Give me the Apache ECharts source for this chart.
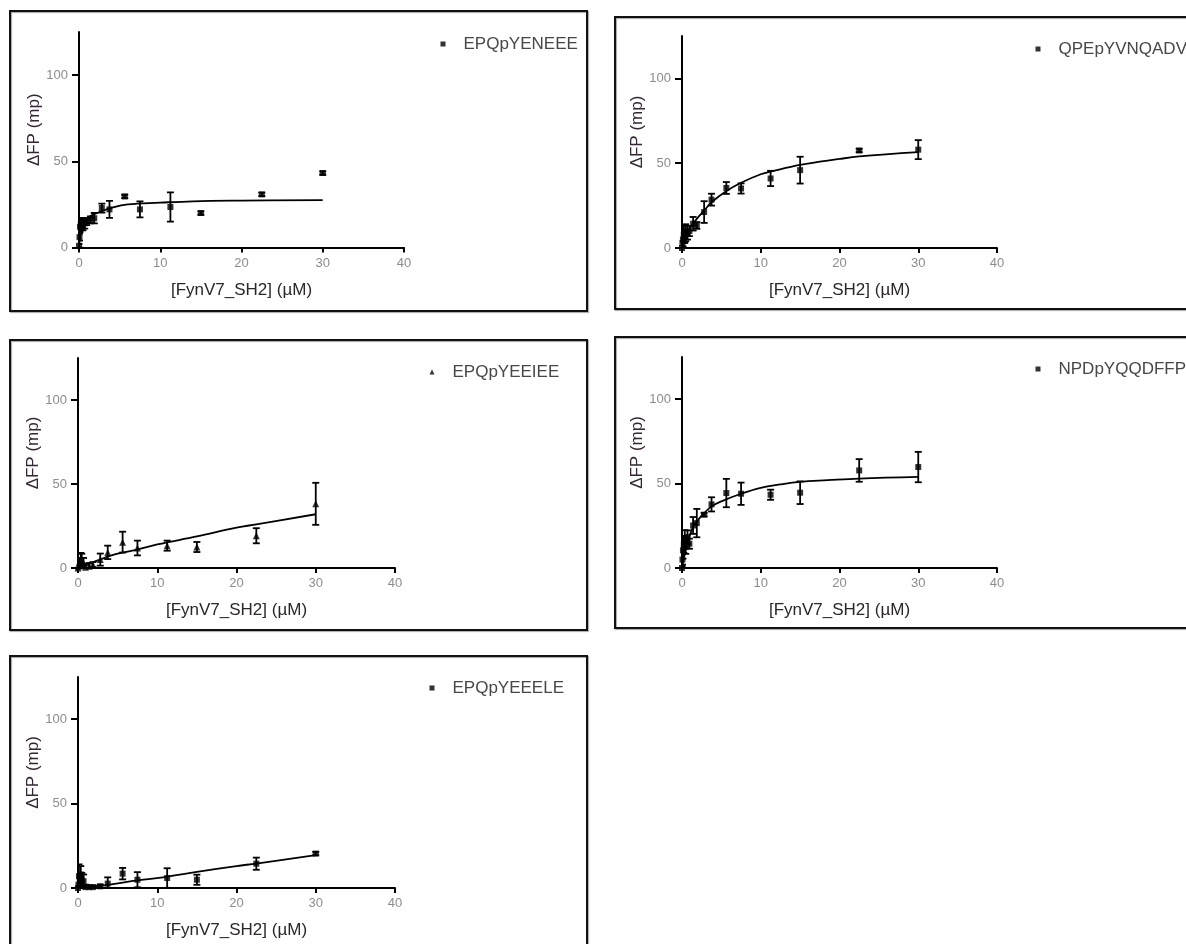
<!DOCTYPE html>
<html>
<head>
<meta charset="utf-8">
<script src="https://cdn.jsdelivr.net/npm/echarts@6/dist/echarts.min.js"></script>
<style>
  html, body { margin: 0; padding: 0; background: #fff; }
  #chart { width: 1186px; height: 944px; }
</style>
</head>
<body>
<div id="chart"></div>
<script>
// FynV7_SH2 titration: ΔFP for five phosphopeptides (mean ± SD) with one-site fits.
const conc = [0, 0.06, 0.12, 0.23, 0.35, 0.47, 0.70, 0.94, 1.41, 1.88, 2.81, 3.75, 5.63, 7.5, 11.25, 15, 22.5, 30];
const xTicks = [0, 10, 20, 30, 40];
const yTicks = [0, 50, 100];
const xTitle = '[FynV7_SH2] (µM)';
const yTitle = 'ΔFP (mp)';

// EPQpYENEEE
const meanENEEE = [1, 6, 12, 14, 15, 13, 14, 15, 16, 17, 22.9, 22.1, 29.6, 22.1, 23.5, 20, 30.8, 43.2];
const sdENEEE   = [1, 2, 3, 3, 2, 3, 3, 2, 2, 3, 2.6, 4.9, 1, 4.6, 8.5, 1, 1, 1];
const fitXENEEE = [0, 0.1, 0.25, 0.5, 1, 1.5, 2.5, 4, 6, 10, 14, 20, 30];
const fitYENEEE = [0, 5, 9.5, 13.5, 17, 18.5, 20.5, 23, 25, 26, 26.8, 27.2, 27.5];

// QPEpYVNQADV
const meanVNQADV = [0, 3, 5, 8, 7, 9, 9, 10, 14.3, 13.3, 21.2, 28.5, 35.4, 35.1, 41, 45.9, 57.5, 58];
const sdVNQADV   = [0.5, 3, 4, 5, 4, 5, 4, 3, 4, 2, 6.4, 3.5, 3.5, 3, 4.5, 7.9, 1, 5.6];
const fitXVNQADV = [0, 0.5, 1, 1.9, 2.8, 3.75, 5.6, 7.5, 10, 11.25, 15, 20, 22.5, 30];
const fitYVNQADV = [0, 6.5, 11.4, 17.3, 22, 27, 33.5, 38.5, 43.5, 45, 49, 52.5, 54, 56.5];

// EPQpYEEIEE
const meanEEIEE = [0, 1, 3, 2, 5, 4, 3, 0.5, 1, 2, 5, 9.3, 15.4, 11.9, 13.3, 12.5, 19.2, 38.2];
const sdEEIEE   = [1, 2, 3, 4, 4, 4.5, 3, 2, 2, 1.5, 3.6, 4, 6.2, 4.4, 3, 3, 4.5, 12.5];
const fitXEEIEE = [0, 1, 2.5, 5, 7.5, 10, 15, 20, 22.5, 30];
const fitYEEIEE = [0, 1.5, 4.5, 8.5, 11, 14, 18.8, 24, 26, 32];

// NPDpYQQDFFP
const meanQQDFFP = [0, 5, 10.5, 14, 17.4, 12.4, 18.3, 14.4, 25.2, 26.6, 31.6, 37.7, 44.4, 44, 43.4, 44.6, 57.8, 59.8];
const sdQQDFFP   = [1, 3, 5, 5, 5, 4, 4, 3, 5, 8.4, 1, 4.2, 8.4, 6.6, 3, 6.7, 6.7, 9];
const fitXQQDFFP = [0, 0.25, 0.5, 1, 1.5, 2.5, 3.75, 5, 7.5, 10, 12.5, 15, 18.5, 22.5, 30];
const fitYQQDFFP = [0, 7, 12.5, 19.5, 25, 31, 36.5, 39.5, 44, 47.5, 49.5, 51, 52, 53, 54];

// EPQpYEEELE
const meanEEELE = [0, 2, 7, 5, 8, 5, 4, 0.5, 0.5, 0.5, 1, 2.6, 8.5, 4.9, 5.9, 4.9, 14.4, 20.4];
const sdEEELE   = [1, 2, 7, 3, 5, 4, 4, 1.5, 1, 1, 1, 3.7, 3.4, 4.5, 5.8, 3, 3.6, 1];
const fitXEEELE = [0, 1.5, 4, 7.5, 11, 15, 20, 22.5, 30];
const fitYEEELE = [0, 0.8, 2, 4.5, 6.5, 9.5, 13, 14.5, 19.5];

const panels = [
  { name: 'EPQpYENEEE',  mean: meanENEEE,  sd: sdENEEE,  fx: fitXENEEE,  fy: fitYENEEE,  symbol: 'rect' },
  { name: 'QPEpYVNQADV', mean: meanVNQADV, sd: sdVNQADV, fx: fitXVNQADV, fy: fitYVNQADV, symbol: 'rect' },
  { name: 'EPQpYEEIEE',  mean: meanEEIEE,  sd: sdEEIEE,  fx: fitXEEIEE,  fy: fitYEEIEE,  symbol: 'triangle' },
  { name: 'NPDpYQQDFFP', mean: meanQQDFFP, sd: sdQQDFFP, fx: fitXQQDFFP, fy: fitYQQDFFP, symbol: 'rect' },
  { name: 'EPQpYEEELE',  mean: meanEEELE,  sd: sdEEELE,  fx: fitXEEELE,  fy: fitYEEELE,  symbol: 'rect' }
];

// Page layout: plot area, legend anchor and frame of each panel (pixels)
const layout = [
  { grid: [79, 32, 325, 215.5],  legend: [443, 45],   box: [10, 11, 577, 300] },
  { grid: [682, 36, 315, 212],   legend: [1038, 50],  box: [615, 17, 577, 292] },
  { grid: [78, 358, 317, 210],   legend: [432, 373],  box: [10, 340, 577, 290] },
  { grid: [682, 357, 315, 211],  legend: [1038, 370], box: [615, 337, 577, 291] },
  { grid: [78, 677, 317, 211],   legend: [432, 689],  box: [10, 656, 577, 310] }
];

const FONT = '"Liberation Sans", Arial, Helvetica, sans-serif';

function errorBarItem(params, api) {
  const x = api.value(0);
  const lo = api.coord([x, api.value(1)]);
  const hi = api.coord([x, api.value(2)]);
  const w = 3.5;
  const st = { stroke: '#000', lineWidth: 1.8 };
  return {
    type: 'group',
    children: [
      { type: 'line', shape: { x1: lo[0], y1: lo[1], x2: hi[0], y2: hi[1] }, style: st },
      { type: 'line', shape: { x1: lo[0] - w, y1: lo[1], x2: lo[0] + w, y2: lo[1] }, style: st },
      { type: 'line', shape: { x1: hi[0] - w, y1: hi[1], x2: hi[0] + w, y2: hi[1] }, style: st }
    ]
  };
}

const grids = [], xAxes = [], yAxes = [], series = [], legends = [], graphics = [];

panels.forEach((p, i) => {
  const L = layout[i];
  grids.push({ left: L.grid[0], top: L.grid[1], width: L.grid[2], height: L.grid[3], containLabel: false });

  xAxes.push({
    gridIndex: i, type: 'value', min: xTicks[0], max: xTicks[xTicks.length - 1], interval: 10,
    axisLine: { show: true, onZero: false, lineStyle: { color: '#000', width: 2 } },
    axisTick: { show: true, length: 5, lineStyle: { color: '#000', width: 2 } },
    axisLabel: { color: '#8c8c8c', fontSize: 13, margin: 9, fontFamily: FONT },
    splitLine: { show: false },
    name: xTitle, nameLocation: 'middle', nameGap: 34,
    nameTextStyle: { fontSize: 17, color: '#2a262a', fontFamily: FONT }
  });

  yAxes.push({
    gridIndex: i, type: 'value', min: 0, max: 125, interval: 50,
    axisLine: { show: true, onZero: false, lineStyle: { color: '#000', width: 2 } },
    axisTick: { show: true, length: 7, customValues: yTicks, lineStyle: { color: '#000', width: 2 } },
    axisLabel: { color: '#8c8c8c', fontSize: 13, margin: 11, fontFamily: FONT, customValues: yTicks },
    splitLine: { show: false },
    name: yTitle, nameLocation: 'middle', nameGap: 36, nameRotate: 90,
    nameTextStyle: { fontSize: 17, color: '#352535', fontFamily: FONT, padding: [0, 0, 0, 20] }
  });

  series.push({
    name: p.name + ' fit', type: 'line', xAxisIndex: i, yAxisIndex: i,
    data: p.fx.map((x, k) => [x, p.fy[k]]),
    smooth: 0.4, showSymbol: false, silent: true,
    lineStyle: { color: '#000', width: 1.8 }, z: 2
  });

  series.push({
    name: p.name + ' SD', type: 'custom', xAxisIndex: i, yAxisIndex: i,
    renderItem: errorBarItem, clip: true,
    encode: { x: 0, y: [1, 2] },
    data: conc.map((c, k) => [c, p.mean[k] - p.sd[k], p.mean[k] + p.sd[k]]),
    z: 3, silent: true
  });

  series.push({
    name: p.name, type: 'scatter', xAxisIndex: i, yAxisIndex: i,
    data: conc.map((c, k) => [c, p.mean[k]]),
    symbol: p.symbol, symbolSize: p.symbol === 'triangle' ? 7 : 6,
    itemStyle: { color: '#000' }, z: 4
  });

  legends.push({
    data: [{ name: p.name, icon: p.symbol }],
    left: L.legend[0] - 2.5, top: L.legend[1] - 9.5, padding: 0,
    itemWidth: 5, itemHeight: 5, selectedMode: false,
    textStyle: { color: '#474747', fontSize: 17, fontFamily: FONT, padding: [0, 0, 0, 13] }
  });

  graphics.push({
    type: 'rect', silent: true, z: -1,
    shape: { x: L.box[0], y: L.box[1], width: L.box[2], height: L.box[3] },
    style: { fill: 'none', stroke: '#111', lineWidth: 2,
             shadowColor: 'rgba(0,0,0,0.35)', shadowOffsetX: 1, shadowOffsetY: 1, shadowBlur: 1 }
  });
});

const chart = echarts.init(document.getElementById('chart'), null, { renderer: 'canvas' });
chart.setOption({
  animation: false,
  backgroundColor: '#fff',
  textStyle: { fontFamily: FONT },
  grid: grids,
  xAxis: xAxes,
  yAxis: yAxes,
  legend: legends,
  series: series,
  graphic: graphics
});
</script>
</body>
</html>
